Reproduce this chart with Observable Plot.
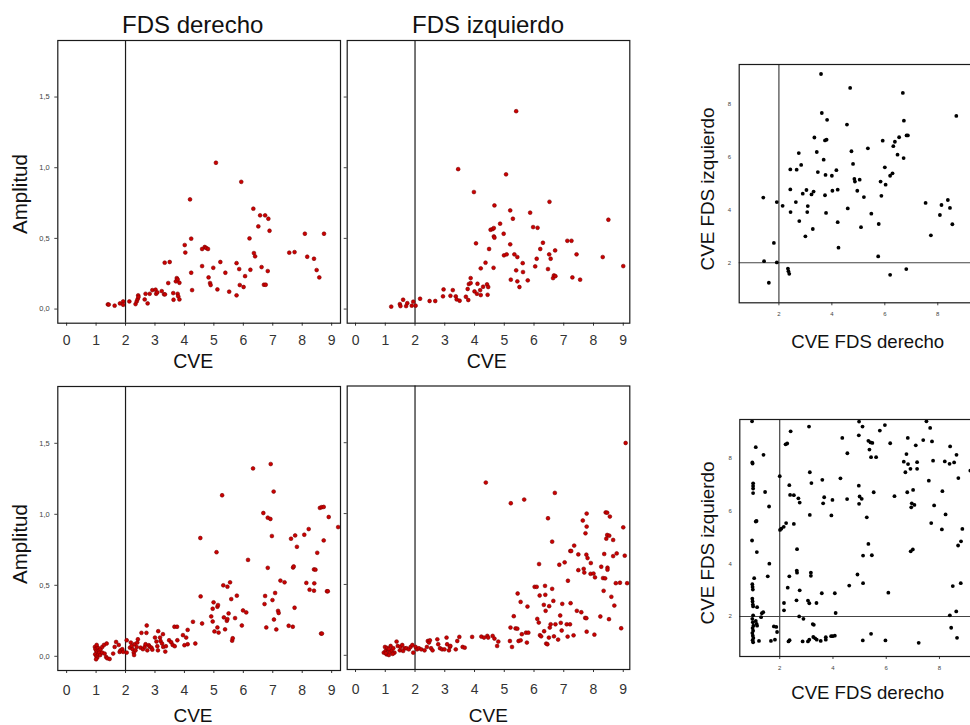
<!DOCTYPE html>
<html><head><meta charset="utf-8">
<script src="https://cdn.jsdelivr.net/npm/d3@7"></script>
<script src="https://cdn.jsdelivr.net/npm/@observablehq/plot@0.6"></script>
<style>
html,body{margin:0;padding:0;background:#fff;overflow:hidden;}
#root{position:relative;width:970px;height:725px;overflow:hidden;background:#fff;}
.panel{position:absolute;}
.lbl{position:absolute;font-family:"Liberation Sans",Arial,sans-serif;color:#111;white-space:nowrap;line-height:1;transform:translate(-50%,-50%);}
.rot{transform:translate(-50%,-50%) rotate(-90deg);}
</style></head><body>
<div id="root"></div>
<script>
// ---------- tick labels / texts ----------
const cveTicks = [0,1,2,3,4,5,6,7,8,9];
const ampTicks = [0, 0.5, 1.0, 1.5];
const cveCrossTicks = [2,4,6,8];
const panelTitles = ["FDS derecho", "FDS izquierdo"];
const ampLabel = "Amplitud";
const cveLabel = "CVE";
const crossY = "CVE FDS izquierdo";
const crossX = "CVE FDS derecho";
const cutoff = 2;

// ---------- data: [CVE, Amplitud] ----------
const derechoTop = [
[1.40,0.033],[1.43,0.032],[1.63,0.024],[1.81,0.040],[1.92,0.054],[1.92,0.030],[2.13,0.054],[2.34,0.035],[2.38,0.054],[2.41,0.070],
[2.43,0.097],[2.44,0.085],[2.65,0.068],[2.68,0.108],[2.75,0.040],[2.82,0.108],[2.91,0.134],[3.02,0.137],[3.04,0.108],[3.08,0.118],
[3.23,0.127],[3.31,0.104],[3.34,0.104],[3.33,0.328],[3.50,0.333],[3.45,0.184],[3.62,0.113],[3.63,0.066],[3.71,0.196],[3.74,0.219],
[3.77,0.210],[3.77,0.108],[3.79,0.090],[3.83,0.186],[3.83,0.068],[4.01,0.453],[4.03,0.400],[4.19,0.776],[4.23,0.498],[4.23,0.257],
[4.26,0.134],[4.60,0.425],[4.60,0.304],[4.69,0.439],[4.74,0.432],[4.80,0.425],[4.82,0.224],[4.87,0.184],[4.89,0.170],[4.98,0.292],
[5.07,1.035],[5.12,0.139],[5.22,0.333],[5.39,0.257],[5.52,0.123],[5.77,0.325],[5.77,0.097],[5.86,0.283],[5.88,0.170],[5.93,0.900],
[6.01,0.156],[6.06,0.233],[6.21,0.500],[6.24,0.278],[6.34,0.710],[6.36,0.396],[6.40,0.373],[6.51,0.585],[6.57,0.663],[6.62,0.297],
[6.70,0.172],[6.74,0.663],[6.76,0.172],[6.83,0.269],[6.85,0.639],[6.89,0.554],[7.56,0.399],[7.74,0.403],[8.09,0.533],[8.17,0.370],
[8.40,0.356],[8.49,0.276],[8.58,0.224],[8.74,0.533]
];
const izquierdoTop = [
[1.20,0.017],[1.49,0.035],[1.51,0.021],[1.60,0.066],[1.70,0.021],[1.74,0.042],[1.89,0.024],[1.94,0.052],[2.02,0.024],[2.17,0.073],
[2.49,0.057],[2.68,0.057],[2.94,0.090],[2.96,0.139],[3.19,0.094],[3.27,0.134],[3.37,0.090],[3.40,0.068],[3.50,0.059],[3.45,0.990],
[3.71,0.087],[3.77,0.142],[3.79,0.064],[3.81,0.177],[3.87,0.219],[3.87,0.184],[3.98,0.828],[4.00,0.125],[4.05,0.465],[4.08,0.108],
[4.10,0.179],[4.19,0.134],[4.21,0.288],[4.21,0.099],[4.29,0.158],[4.37,0.328],[4.42,0.175],[4.46,0.156],[4.44,0.101],[4.49,0.425],
[4.54,0.561],[4.61,0.566],[4.65,0.573],[4.65,0.514],[4.67,0.505],[4.64,0.292],[4.67,0.733],[4.86,0.604],[4.98,0.533],[4.99,0.380],
[5.06,0.953],[5.08,0.387],[5.20,0.698],[5.20,0.458],[5.22,0.208],[5.29,0.639],[5.34,0.387],[5.40,1.400],[5.40,0.274],[5.44,0.368],
[5.44,0.196],[5.51,0.156],[5.62,0.325],[5.63,0.262],[5.79,0.203],[5.87,0.682],[5.97,0.580],[6.04,0.302],[6.09,0.356],[6.12,0.575],
[6.21,0.425],[6.30,0.469],[6.47,0.283],[6.52,0.759],[6.51,0.387],[6.56,0.356],[6.64,0.219],[6.67,0.238],[6.72,0.233],[6.71,0.415],
[7.12,0.483],[7.26,0.483],[7.29,0.224],[7.43,0.387],[7.55,0.208],[8.31,0.368],[8.50,0.632],[9.00,0.304]
];
const derechoBottom = [
[0.96,0.066],[0.98,0.050],[1.01,0.038],[1.03,0.026],[0.97,0.014],[1.01,0.000],[1.04,-0.009],[1.00,-0.021],[1.06,0.061],[1.08,0.014],
[1.10,0.042],[1.11,0.026],[1.02,0.080],[1.14,0.009],[1.15,0.050],[1.21,0.066],[1.27,0.080],[1.36,0.090],[1.21,0.026],[1.29,0.019],
[1.34,-0.005],[1.38,-0.014],[1.46,-0.019],[1.58,0.019],[1.63,0.066],[1.68,0.101],[1.77,0.080],[1.80,0.031],[1.83,0.042],[1.89,0.050],
[1.92,0.031],[2.04,0.113],[2.04,0.026],[2.15,0.061],[2.18,0.097],[2.21,0.073],[2.24,0.050],[2.28,0.026],[2.29,0.009],[2.31,0.085],
[2.34,0.042],[2.38,0.066],[2.40,0.097],[2.42,0.120],[2.54,0.165],[2.51,0.061],[2.59,0.050],[2.65,0.066],[2.68,0.085],[2.71,0.165],
[2.72,0.217],[2.74,0.042],[2.79,0.078],[2.82,0.068],[2.88,0.061],[2.91,0.047],[3.00,0.132],[3.05,0.104],[3.08,0.071],[3.10,0.042],
[3.11,0.177],[3.17,0.132],[3.19,0.108],[3.24,0.090],[3.27,0.156],[3.28,0.066],[3.35,0.033],[3.37,0.071],[3.48,0.113],[3.55,0.099],
[3.60,0.080],[3.67,0.071],[3.66,0.208],[3.75,0.208],[3.76,0.113],[3.95,0.149],[4.00,0.078],[4.06,0.132],[4.11,0.085],[4.11,0.186],
[4.29,0.243],[4.37,0.090],[4.54,0.833],[4.55,0.422],[4.60,0.231],[4.91,0.281],[4.96,0.335],[4.99,0.380],[4.96,0.245],[5.02,0.175],
[5.09,0.733],[5.12,0.349],[5.14,0.361],[5.12,0.203],[5.16,0.167],[5.28,1.134],[5.32,0.500],[5.34,0.274],[5.38,0.190],[5.44,0.250],
[5.46,0.262],[5.50,0.302],[5.46,0.490],[5.55,0.521],[5.59,0.403],[5.62,0.110],[5.64,0.127],[5.72,0.269],[5.78,0.427],[5.95,0.217],
[5.99,0.323],[6.10,0.309],[6.16,0.679],[6.33,1.323],[6.68,1.009],[6.72,0.368],[6.74,0.425],[6.78,0.203],[6.83,0.623],[6.83,0.976],
[6.92,0.967],[6.93,1.354],[6.97,0.847],[6.99,0.396],[7.03,1.160],[7.04,0.259],[7.08,0.446],[7.12,0.189],[7.18,0.320],[7.20,0.305],
[7.26,0.533],[7.40,0.521],[7.54,0.215],[7.62,0.828],[7.68,0.208],[7.69,0.625],[7.71,0.633],[7.74,0.342],[7.76,0.851],[7.82,0.771],
[8.07,0.856],[8.14,0.517],[8.22,0.896],[8.25,0.469],[8.40,0.462],[8.41,0.514],[8.40,0.612],[8.45,0.610],[8.51,0.729],[8.60,1.045],
[8.66,1.050],[8.73,1.052],[8.64,0.160],[8.67,0.160],[8.73,0.816],[8.84,0.458],[8.87,0.458],[8.90,0.981],[9.22,0.910]
];
const izquierdoBottom = [
[0.95,0.019],[0.99,0.059],[1.01,0.031],[1.04,0.007],[1.09,0.042],[1.12,0.002],[1.15,0.024],[1.18,0.066],[1.21,0.035],[1.27,0.050],
[1.31,0.019],[1.38,0.097],[1.42,0.066],[1.49,0.035],[1.51,0.059],[1.57,0.073],[1.60,0.031],[1.65,0.050],[1.71,0.050],[1.79,0.042],
[1.85,0.059],[1.91,0.073],[1.94,0.019],[2.02,0.059],[2.07,0.042],[2.13,0.050],[2.21,0.042],[2.32,0.035],[2.40,0.059],[2.43,0.101],
[2.47,0.090],[2.50,0.106],[2.54,0.050],[2.59,0.035],[2.75,0.113],[2.78,0.078],[2.84,0.050],[2.91,0.042],[2.99,0.042],[3.06,0.125],
[3.08,0.078],[3.14,0.035],[3.17,0.059],[3.19,0.066],[3.37,0.042],[3.42,0.101],[3.49,0.130],[3.60,0.059],[3.67,0.054],[3.92,0.130],
[4.23,0.132],[4.32,0.125],[4.43,0.137],[4.46,0.125],[4.61,0.137],[4.67,0.118],[4.76,0.066],[4.80,0.097],[1.02,0.015],[1.06,0.052],
[1.12,0.045],[1.25,0.010],
[4.38,1.219],[5.22,1.073],[5.26,0.059],[5.19,0.101],[5.21,0.196],[5.32,0.276],[5.38,0.190],[5.44,0.188],[5.45,0.436],[5.48,0.101],
[5.55,0.106],[5.55,0.377],[5.59,0.149],[5.67,1.099],[5.73,0.160],[5.81,0.160],[5.78,0.344],[5.76,0.090],[6.02,0.483],[6.09,0.483],
[6.11,0.257],[6.17,0.644],[6.16,0.231],[6.20,0.142],[6.24,0.134],[6.19,0.422],[6.34,0.170],[6.33,0.356],[6.37,0.490],[6.38,0.427],
[6.39,0.314],[6.41,0.083],[6.45,0.078],[6.47,0.967],[6.50,0.125],[6.51,0.347],[6.53,0.196],[6.56,0.219],[6.61,0.469],[6.61,0.802],
[6.65,0.384],[6.70,1.146],[6.67,0.134],[6.72,0.219],[6.81,0.111],[6.85,0.639],[6.88,0.281],[6.90,0.229],[6.93,0.175],[6.95,0.363],
[7.03,0.656],[7.10,0.219],[7.21,0.219],[7.13,0.132],[7.14,0.526],[7.22,0.736],[7.25,0.736],[7.23,0.368],[7.33,0.141],[7.35,0.774],
[7.44,0.314],[7.49,0.601],[7.49,0.712],[7.59,0.304],[7.64,0.951],[7.67,0.610],[7.69,0.584],[7.72,0.264],[7.76,0.262],[7.73,0.861],
[7.76,0.710],[7.77,0.908],[7.77,1.000],[7.77,0.167],[7.80,0.686],[7.91,0.651],[7.90,0.575],[8.00,0.577],[8.03,0.146],[8.05,0.550],
[8.23,0.274],[8.26,0.625],[8.32,0.545],[8.39,0.543],[8.34,0.455],[8.36,0.715],[8.41,1.008],[8.46,1.006],[8.43,0.823],[8.46,0.849],
[8.47,0.618],[8.47,0.604],[8.52,0.255],[8.53,0.844],[8.55,0.979],[8.60,0.413],[8.66,0.814],[8.66,0.700],[8.70,0.351],[8.75,0.509],
[8.78,0.719],[8.89,0.512],[8.93,0.191],[9.00,0.903],[9.05,0.703],[9.08,1.498],[9.13,0.509]
];
// ---------- data: [CVE FDS derecho, CVE FDS izquierdo] ----------
const crossTop = [
[1.41,4.47],[1.44,2.06],[1.62,1.24],[1.81,2.75],[1.92,4.30],[1.92,2.01],[2.14,4.16],[2.34,1.78],[2.36,1.68],[2.39,1.58],
[2.43,5.54],[2.43,4.78],[2.44,3.92],[2.67,5.53],[2.64,4.30],[2.75,6.16],[2.77,3.58],[2.84,5.71],[2.90,4.62],[3.00,3.00],
[3.04,4.76],[3.07,3.92],[3.09,4.15],[3.23,4.59],[3.28,3.28],[3.31,4.70],[3.34,6.75],[3.43,6.20],[3.47,5.44],[3.59,9.16],
[3.62,7.68],[3.69,5.91],[3.74,6.64],[3.80,6.67],[3.74,4.56],[3.76,5.33],[3.78,3.89],[3.82,7.42],[4.00,5.30],[4.02,4.73],
[4.17,5.51],[4.22,4.77],[4.22,3.54],[4.25,2.57],[4.57,7.24],[4.60,4.06],[4.69,8.63],[4.74,6.23],[4.80,5.75],[4.85,5.18],
[4.87,5.08],[4.96,4.73],[5.05,5.15],[5.10,3.35],[5.21,4.49],[5.36,6.34],[5.49,3.86],[5.77,3.47],[5.75,2.24],[5.84,5.08],
[5.87,4.54],[5.92,6.63],[6.00,5.62],[6.03,4.96],[6.20,1.54],[6.20,5.30],[6.29,5.39],[6.32,6.42],[6.38,6.59],[6.48,6.10],
[6.54,6.76],[6.68,8.44],[6.71,5.97],[6.72,7.39],[6.81,1.76],[6.82,6.83],[6.87,6.83],[7.54,4.27],[7.74,3.04],[8.08,3.81],
[8.14,4.19],[8.38,4.38],[8.46,4.08],[8.55,3.46],[8.70,7.57]
];
const crossBottom = [
[0.96,9.40],[0.97,7.84],[0.98,7.80],[1.00,7.05],[1.00,6.95],[1.00,6.85],[1.00,6.68],[0.96,4.88],[0.97,3.22],[0.98,3.12],
[0.99,3.02],[0.97,2.67],[0.98,2.57],[0.99,2.45],[1.00,2.38],[1.00,2.04],[0.97,1.91],[0.99,1.78],[1.01,1.65],[0.98,1.56],
[1.00,1.46],[0.97,1.37],[0.99,1.27],[1.01,1.18],[0.98,1.10],[1.00,1.02],[1.04,3.45],[1.10,8.42],[1.10,5.60],[1.13,5.62],
[1.14,4.44],[1.15,2.35],[1.10,1.83],[1.13,1.72],[1.15,1.65],[1.22,1.07],[1.33,2.12],[1.38,2.16],[1.30,1.97],[1.39,8.13],
[1.45,6.72],[1.55,3.52],[1.60,6.17],[1.61,4.00],[1.67,1.07],[1.78,1.62],[1.87,1.60],[1.82,1.12],[1.90,1.41],[2.00,7.32],
[2.01,5.28],[2.06,5.33],[2.15,5.40],[2.16,2.51],[2.16,2.23],[2.22,8.53],[2.28,8.56],[2.24,5.54],[2.30,3.09],[2.33,1.05],
[2.37,1.10],[2.36,3.52],[2.36,6.98],[2.41,9.02],[2.39,6.61],[2.53,6.60],[2.53,5.51],[2.63,2.61],[2.65,4.55],[2.64,3.74],
[2.65,3.66],[2.70,6.48],[2.75,6.32],[2.73,2.00],[2.75,2.99],[2.86,1.05],[2.89,1.91],[3.06,1.05],[3.11,1.12],[3.10,9.20],
[3.06,2.60],[3.11,2.50],[3.13,7.47],[3.13,5.85],[3.17,3.66],[3.17,3.54],[3.19,7.06],[3.24,1.71],[3.28,1.68],[3.26,1.22],
[3.33,1.17],[3.38,2.51],[3.39,1.12],[3.54,1.07],[3.58,2.88],[3.60,7.18],[3.63,6.29],[3.67,6.52],[3.73,1.21],[3.73,1.12],
[3.93,1.25],[3.99,1.25],[3.94,5.83],[3.98,6.42],[4.07,2.88],[4.10,2.13],[4.07,1.27],[4.28,7.24],[4.35,8.77],[4.53,6.45],
[4.54,8.19],[4.61,3.17],[4.92,3.59],[4.97,8.87],[4.98,9.39],[4.97,6.96],[4.98,6.27],[5.00,6.55],[5.08,6.46],[5.11,9.20],
[5.13,4.31],[5.13,3.26],[5.12,1.09],[5.27,5.76],[5.33,8.66],[5.41,8.60],[5.48,8.58],[5.33,4.75],[5.37,8.33],[5.43,1.34],
[5.46,4.32],[5.43,8.04],[5.62,8.04],[5.53,6.71],[5.76,9.05],[5.95,9.26],[5.97,1.09],[6.08,2.90],[6.15,8.57],[6.31,6.56],
[6.66,7.87],[6.72,7.47],[6.76,8.16],[6.79,6.71],[6.81,8.77],[6.82,7.78],[6.92,4.47],[7.00,4.54],[6.91,7.60],[6.94,6.14],
[6.96,6.29],[7.01,6.80],[7.06,6.23],[7.11,8.49],[7.16,7.60],[7.16,7.85],[7.22,1.00],[7.39,8.69],[7.51,9.40],[7.60,7.15],
[7.65,9.15],[7.69,5.54],[7.72,8.64],[7.76,7.91],[7.80,6.21],[8.09,5.30],[8.11,6.75],[8.20,7.88],[8.38,7.79],[8.23,5.87],
[8.39,2.04],[8.40,8.45],[8.44,1.57],[8.50,3.15],[8.55,7.84],[8.63,2.19],[8.64,8.13],[8.66,1.19],[8.70,4.69],[8.71,7.25],
[8.80,3.26],[8.81,4.85],[8.86,5.32],[9.16,7.53]
];

// ---------- drawing ----------
const FONT = '"Liberation Sans", Arial, sans-serif';
const root = document.getElementById("root");
const commaFmt = d => d.toFixed(1).replace(".", ",");

function place(node, left, top) {
  node.classList.add("panel");
  node.style.left = left + "px";
  node.style.top = top + "px";
  root.appendChild(node);
}

function ampPanel(data, o) {
  const svg = Plot.plot({
    width: o.width, height: o.height,
    marginLeft: o.mL, marginRight: o.mR, marginTop: o.mT, marginBottom: o.mB,
    style: {fontFamily: FONT, background: "transparent", overflow: "visible"},
    x: {domain: o.xDomain},
    y: {domain: [-0.1, 1.9]},
    marks: [
      Plot.axisX(cveTicks, {tickSize: 3, tickPadding: o.xPad, fontSize: 14, color: "#333", tickFormat: d => String(d), label: null}),
      Plot.axisY(ampTicks, {tickSize: 3, tickPadding: 5, fontSize: 7.5, color: "#444", tickFormat: o.showY ? commaFmt : () => "", label: null}),
      Plot.ruleX([cutoff], {stroke: "#1a1a1a", strokeWidth: 1.2}),
      Plot.dot(data, {x: d => d[0], y: d => d[1], r: 1.9, fill: "#cc0000", stroke: "#7a0000", strokeWidth: 0.6}),
      Plot.frame({stroke: "#1a1a1a", strokeWidth: 1.2})
    ]
  });
  place(svg, o.left, o.top);
}

function crossPanel(data, o) {
  const svg = Plot.plot({
    width: o.width, height: o.height,
    marginLeft: o.mL, marginRight: o.mR, marginTop: o.mT, marginBottom: o.mB,
    style: {fontFamily: FONT, background: "transparent", overflow: "visible"},
    x: {domain: o.xDomain},
    y: {domain: o.yDomain},
    marks: [
      Plot.axisX(cveCrossTicks, {tickSize: 3, tickPadding: 6, fontSize: 6, color: "#444", tickFormat: d => String(d), label: null}),
      Plot.axisY(cveCrossTicks, {tickSize: 0, tickPadding: 8, fontSize: 6, color: "#444", tickFormat: d => String(d), label: null}),
      Plot.ruleX([cutoff], {stroke: "#333", strokeWidth: 1.1}),
      Plot.ruleY([cutoff], {stroke: "#444", strokeWidth: 1.1}),
      Plot.dot(data, {x: d => d[0], y: d => d[1], r: 1.9, fill: "#000", stroke: "none"}),
      Plot.frame({stroke: "#1a1a1a", strokeWidth: 1.2})
    ]
  });
  place(svg, o.left, o.top);
}

ampPanel(derechoTop,     {left: 0,   top: 0,   width: 345, height: 370, mL: 57.3, mR: 5,   mT: 40, mB: 47.3, xDomain: [-0.3, 9.3],  showY: true,  xPad: 9});
ampPanel(izquierdoTop,   {left: 340, top: 0,   width: 295, height: 370, mL: 6.7,  mR: 5.7, mT: 40, mB: 47.3, xDomain: [-0.28, 9.22], showY: false, xPad: 9});
ampPanel(derechoBottom,  {left: 0,   top: 370, width: 345, height: 355, mL: 57.3, mR: 5,   mT: 16, mB: 55,   xDomain: [-0.3, 9.3],  showY: true,  xPad: 12});
ampPanel(izquierdoBottom,{left: 340, top: 370, width: 295, height: 355, mL: 6.7,  mR: 5.7, mT: 15.5, mB: 56, xDomain: [-0.28, 9.22], showY: false, xPad: 12});

crossPanel(crossTop,    {left: 690, top: 40,  width: 300, height: 300, mL: 48.7, mR: 13,   mT: 24, mB: 37.7, xDomain: [0.5, 9.5], yDomain: [0.48, 9.52]});
crossPanel(crossBottom, {left: 690, top: 400, width: 300, height: 280, mL: 49.3, mR: 11.1, mT: 19, mB: 24,   xDomain: [0.5, 9.5], yDomain: [0.48, 9.47]});

// ---------- text labels ----------
const labels = [
  {t: panelTitles[0], x: 192.7, y: 25,    s: 24},
  {t: panelTitles[1], x: 488,   y: 25,    s: 24},
  {t: ampLabel,       x: 19.5,  y: 194,   s: 20.5, r: true},
  {t: ampLabel,       x: 19.5,  y: 543.5, s: 20.5, r: true},
  {t: cveLabel,       x: 193.3, y: 361.5, s: 19.5},
  {t: cveLabel,       x: 486.7, y: 361.5, s: 19.5},
  {t: cveLabel,       x: 193,   y: 714.5, s: 19},
  {t: cveLabel,       x: 488.3, y: 714.5, s: 19},
  {t: crossY,         x: 707.5, y: 188.5, s: 18.8, r: true},
  {t: crossX,         x: 867.7, y: 341.7, s: 18.6},
  {t: crossY,         x: 707.5, y: 543.3, s: 18.8, r: true},
  {t: crossX,         x: 867.7, y: 692.7, s: 18.6}
];
for (const l of labels) {
  const d = document.createElement("div");
  d.className = "lbl" + (l.r ? " rot" : "");
  d.textContent = l.t;
  d.style.left = l.x + "px";
  d.style.top = l.y + "px";
  d.style.fontSize = l.s + "px";
  root.appendChild(d);
}
</script>
</body></html>
